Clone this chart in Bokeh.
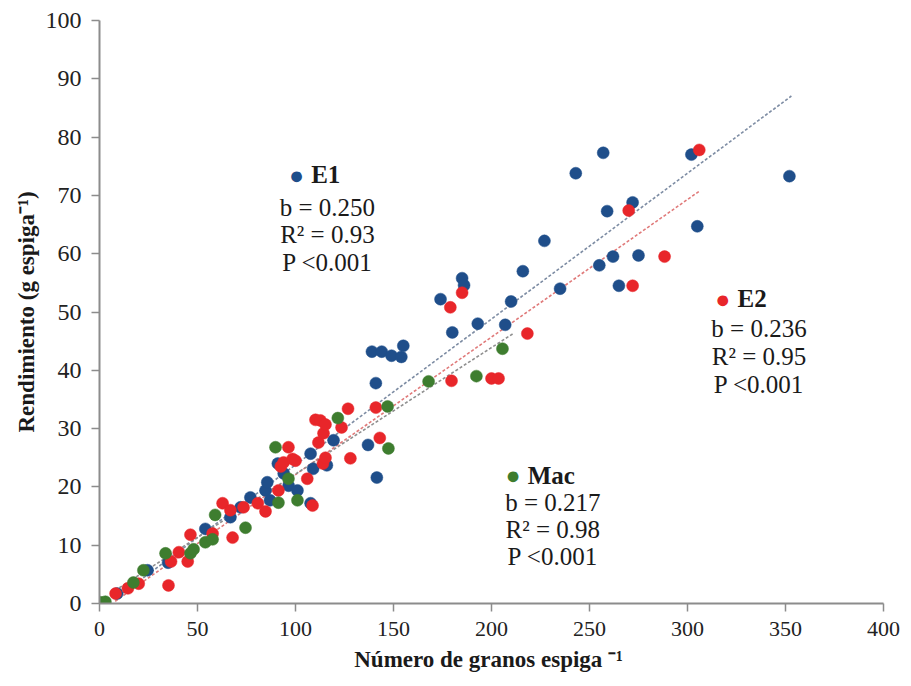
from bokeh.plotting import figure
from bokeh.models import Label, Range1d, FixedTicker
from bokeh.embed import file_html
from bokeh.resources import INLINE

# ---- data ----
e1_x = [9, 24.5, 35, 54, 66.8, 72, 77, 84.7, 85.6, 87, 91, 94, 96.5, 101, 107.7, 109, 116, 107.7,
        119.4, 137, 141.5, 141, 139, 144, 149, 154, 155, 174, 180, 185, 186, 193, 207, 210, 216,
        227, 235, 243, 255, 257, 259, 262, 265, 272, 275, 302, 305, 352]
e1_y = [1.7, 5.7, 7, 12.8, 14.8, 16.5, 18.2, 19.4, 20.8, 17.7, 24, 22.3, 20.2, 19.4, 25.7, 23.1, 23.7, 17.2,
        28, 27.2, 21.6, 37.8, 43.2, 43.2, 42.5, 42.3, 44.2, 52.2, 46.5, 55.8, 54.6, 48, 47.8, 51.8, 57,
        62.2, 54, 73.8, 58, 77.3, 67.3, 59.5, 54.5, 68.8, 59.7, 77, 64.7, 73.3]

e2_x = [8.2, 14.5, 20, 35.2, 36.5, 40.5, 45, 46.4, 57.7, 62.8, 66.8, 67.9, 73.5, 80.8, 84.7, 91.3,
        92.5, 93.9, 96.4, 98.5, 100, 106, 108.7, 110.2, 111.7, 112.7, 114, 114.3, 115.3, 115.3, 123.5,
        126.8, 128, 141, 143, 179.6, 179, 185, 200, 203.6, 218.3, 270, 272, 288.3, 306]
e2_y = [1.7, 2.6, 3.4, 3.1, 7.2, 8.8, 7.2, 11.8, 12, 17.2, 16, 11.3, 16.5, 17.2, 15.8, 19.4,
        23.5, 24.2, 26.8, 24.8, 24.5, 21.4, 16.8, 31.5, 27.6, 31.4, 24, 29.2, 25, 30.7, 30.2,
        33.4, 24.9, 33.6, 28.4, 38.2, 50.8, 53.3, 38.6, 38.6, 46.3, 67.4, 54.5, 59.5, 77.8]

mac_x = [0.5, 3, 17.3, 22.4, 33.7, 46.4, 48, 54, 57.7, 59, 74.5, 89.8, 91.3, 96.4, 101,
         121.6, 147, 147.4, 167.9, 192.3, 205.6]
mac_y = [0.2, 0.3, 3.6, 5.7, 8.6, 8.6, 9.3, 10.5, 11, 15.2, 13, 26.8, 17.3, 21.4, 17.7,
         31.8, 33.8, 26.6, 38.1, 39, 43.7]

series_names = ["E1", "E2", "Mac"]
slopes = [0.250, 0.236, 0.217]
intercepts = [-1.2, -1.5, 0.5]
fit_x_start = [8, 8, 8]
fit_x_end = [353, 306, 211]
r2_vals = ["0.93", "0.95", "0.98"]
p_vals = ["<0.001", "<0.001", "<0.001"]

x_ticks = [0, 50, 100, 150, 200, 250, 300, 350, 400]
y_ticks = [0, 10, 20, 30, 40, 50, 60, 70, 80, 90, 100]

# ---- styling ----
colors = ["#1f4e8a", "#e8262a", "#3e7d2f"]
line_colors = ["#7d8ca3", "#e07a7a", "#8f8f8f"]
FONT = "Liberation Serif"

p = figure(width=911, height=686, output_backend="svg", toolbar_location=None,
           x_range=Range1d(0, 400), y_range=Range1d(0, 100),
           min_border_left=99, min_border_right=28, min_border_top=20, min_border_bottom=83)
p.outline_line_color = None
p.xgrid.visible = False
p.ygrid.visible = False
p.background_fill_color = "white"
p.border_fill_color = "white"

for ax in (p.xaxis[0], p.yaxis[0]):
    ax.axis_line_color = "#8c8c8c"
    ax.axis_line_width = 2
    ax.major_tick_line_color = "#8c8c8c"
    ax.major_tick_line_width = 1.5
    ax.major_tick_out = 8
    ax.major_tick_in = 0
    ax.minor_tick_line_color = None
    ax.major_label_text_font = FONT
    ax.major_label_text_color = "#222222"
    ax.axis_label_text_font = FONT
    ax.axis_label_text_font_style = "bold"
    ax.axis_label_text_font_size = "23px"
    ax.axis_label_text_color = "#1a1a1a"

p.xaxis.major_label_text_font_size = "22px"
p.yaxis.major_label_text_font_size = "24px"
p.xaxis.ticker = FixedTicker(ticks=x_ticks)
p.yaxis.ticker = FixedTicker(ticks=y_ticks)
p.xaxis.major_label_standoff = 10
p.yaxis.major_label_standoff = 10
p.xaxis.axis_label = "Número de granos  espiga ⁻¹"
p.yaxis.axis_label = "Rendimiento (g espiga⁻¹)"
p.xaxis.axis_label_standoff = 8
p.yaxis.axis_label_standoff = 4

# trend lines
for i in range(3):
    xs = [fit_x_start[i], fit_x_end[i]]
    ys = [slopes[i] * x + intercepts[i] for x in xs]
    p.line(xs, ys, line_color=line_colors[i], line_width=1.6, line_dash="3 2")

# points
for xs, ys, c in [(e1_x, e1_y, colors[0]), (e2_x, e2_y, colors[1]), (mac_x, mac_y, colors[2])]:
    p.scatter(xs, ys, size=12, fill_color=c, line_color=c, line_width=0.5)

# annotations: (dot x, dot y, block centre x, row ys) in data units
ann = [
    (100.5, 73.5, 116.3, [68.0, 63.3, 58.5]),
    (318.0, 52.3, 336.5, [47.2, 42.4, 37.6]),
    (211.0, 22.0, 231.3, [17.3, 12.7, 8.0]),
]
for i, (dx, dy, cx, rows) in enumerate(ann):
    p.add_layout(Label(x=dx, y=dy, text="●", text_color=colors[i], text_font_size="25px",
                       text_align="center", text_baseline="middle"))
    p.add_layout(Label(x=dx + 7.5, y=dy, text=series_names[i], text_font=FONT,
                       text_font_style="bold", text_font_size="25px", text_color="#1a1a1a",
                       text_align="left", text_baseline="middle"))
    texts = ["b = %.3f" % slopes[i], "R² = " + r2_vals[i], "P " + p_vals[i]]
    for t, yy in zip(texts, rows):
        p.add_layout(Label(x=cx, y=yy, text=t, text_font=FONT, text_font_size="25px",
                           text_color="#1a1a1a", text_align="center", text_baseline="middle"))

open("out.html", "w").write(file_html(p, INLINE))
